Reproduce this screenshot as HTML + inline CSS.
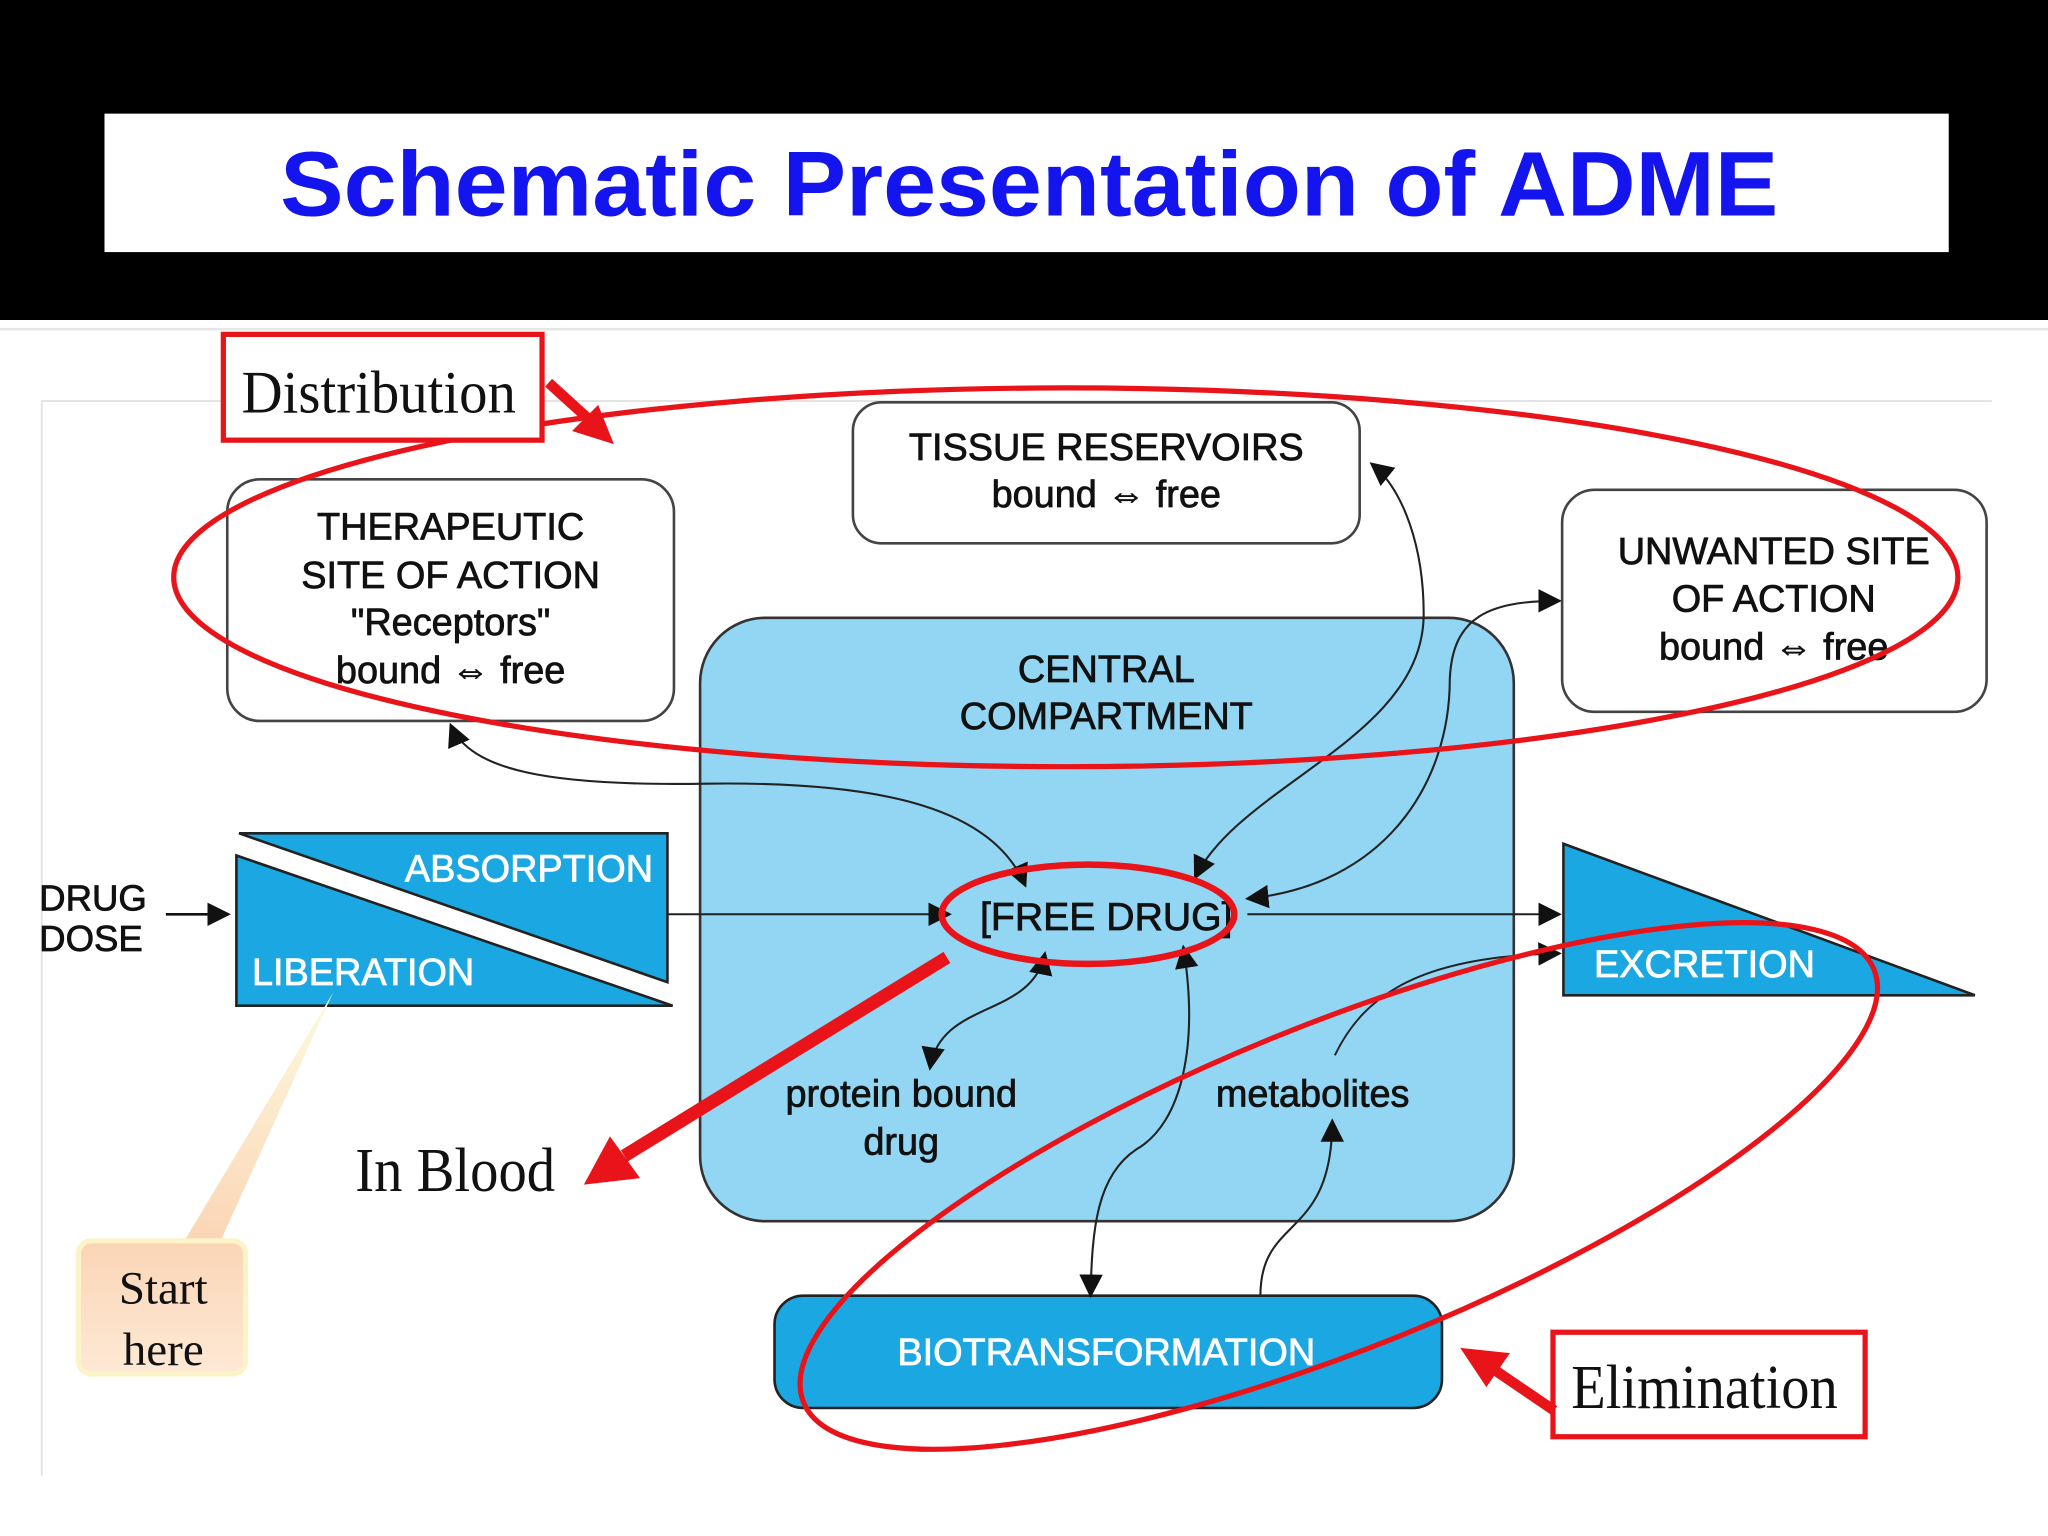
<!DOCTYPE html>
<html><head><meta charset="utf-8"><style>
html,body{margin:0;padding:0;background:#fff;overflow:hidden;}
svg{display:block;}
.s{font-family:"Liberation Sans",sans-serif;stroke:#111;stroke-width:0.6;}
.w{stroke:#fff;}
.r{font-family:"Liberation Serif",serif;}
</style></head><body>
<svg width="2048" height="1536" viewBox="0 0 1568 1176" preserveAspectRatio="none" xmlns="http://www.w3.org/2000/svg">
<defs>
<marker id="b" viewBox="0 0 10 10" refX="9" refY="5" markerWidth="18" markerHeight="18" orient="auto" markerUnits="userSpaceOnUse"><path d="M0,0 L10,5 L0,10 z" fill="#111"/></marker>
<marker id="c" viewBox="0 0 10 10" refX="1" refY="5" markerWidth="18" markerHeight="18" orient="auto" markerUnits="userSpaceOnUse"><path d="M10,0 L0,5 L10,10 z" fill="#111"/></marker>
<linearGradient id="pg" x1="0" y1="0" x2="0" y2="1"><stop offset="0" stop-color="#fbd5b5"/><stop offset="1" stop-color="#fde9d6"/></linearGradient>
<linearGradient id="tg" x1="0" y1="1" x2="0" y2="0"><stop offset="0" stop-color="#fbd5b5"/><stop offset="1" stop-color="#fdfbe0"/></linearGradient>
</defs>
<rect x="0" y="0" width="1568" height="245" fill="#000"/>
<rect x="80" y="87" width="1412" height="106" fill="#fff"/>
<text x="788" y="165" text-anchor="middle" font-family="Liberation Sans,sans-serif" font-weight="bold" font-size="70" fill="#1414ee" textLength="1147" lengthAdjust="spacingAndGlyphs">Schematic Presentation of ADME</text>
<line x1="0" y1="252" x2="1568" y2="252" stroke="#e6e6e6" stroke-width="2"/>
<path d="M32,1130 L32,307 L1525,307" fill="none" stroke="#e4e4e4" stroke-width="1.5"/>

<rect x="536" y="473" width="623" height="462" rx="50" fill="#92d6f4" stroke="#333" stroke-width="2"/>
<text x="847" y="522" text-anchor="middle" class="s" font-size="29" fill="#111">CENTRAL</text>
<text x="847" y="558" text-anchor="middle" class="s" font-size="29" fill="#111">COMPARTMENT</text>

<rect x="653" y="308" width="388" height="108" rx="22" fill="#fff" stroke="#444" stroke-width="2"/>
<text x="847" y="352" text-anchor="middle" class="s" font-size="29" fill="#111">TISSUE RESERVOIRS</text>
<text x="847" y="388" text-anchor="middle" class="s" font-size="29" fill="#111">bound ⇔ free</text>
<rect x="174" y="367" width="342" height="185" rx="25" fill="#fff" stroke="#444" stroke-width="2"/>
<text x="345" y="413" text-anchor="middle" class="s" font-size="29" fill="#111">THERAPEUTIC</text>
<text x="345" y="450" text-anchor="middle" class="s" font-size="29" fill="#111">SITE OF ACTION</text>
<text x="345" y="486" text-anchor="middle" class="s" font-size="29" fill="#111">"Receptors"</text>
<text x="345" y="523" text-anchor="middle" class="s" font-size="29" fill="#111">bound ⇔ free</text>
<rect x="1196" y="375" width="325" height="170" rx="25" fill="#fff" stroke="#444" stroke-width="2"/>
<text x="1358" y="432" text-anchor="middle" class="s" font-size="29" fill="#111">UNWANTED SITE</text>
<text x="1358" y="468" text-anchor="middle" class="s" font-size="29" fill="#111">OF ACTION</text>
<text x="1358" y="505" text-anchor="middle" class="s" font-size="29" fill="#111">bound ⇔ free</text>

<polygon points="183,638 511,638 511,752" fill="#1ba8e2" stroke="#222" stroke-width="2"/>
<polygon points="181,655 181,770 515,770" fill="#1ba8e2" stroke="#222" stroke-width="2"/>
<text x="405" y="675" text-anchor="middle" class="s w" font-size="29" fill="#fff">ABSORPTION</text>
<text x="278" y="754" text-anchor="middle" class="s w" font-size="29" fill="#fff">LIBERATION</text>
<text x="30" y="697" class="s" font-size="28" fill="#111">DRUG</text>
<text x="30" y="728" class="s" font-size="28" fill="#111">DOSE</text>
<line x1="127" y1="700" x2="175" y2="700" stroke="#111" stroke-width="2" marker-end="url(#b)"/>
<line x1="511" y1="700" x2="727" y2="700" stroke="#222" stroke-width="1.5" marker-end="url(#b)"/>

<polygon points="1197,646 1197,762 1512,762" fill="#1ba8e2" stroke="#222" stroke-width="2"/>
<text x="1305" y="748" text-anchor="middle" class="s w" font-size="29" fill="#fff">EXCRETION</text>
<line x1="955" y1="700" x2="1194" y2="700" stroke="#222" stroke-width="1.5" marker-end="url(#b)"/>
<path d="M1022,808 C1045,760 1090,732 1194,730" fill="none" stroke="#222" stroke-width="1.5" marker-end="url(#b)"/>

<rect x="593" y="992" width="511" height="86" rx="22" fill="#1ba8e2" stroke="#222" stroke-width="2"/>
<text x="847" y="1045" text-anchor="middle" class="s w" font-size="29" fill="#fff">BIOTRANSFORMATION</text>

<text x="847" y="712" text-anchor="middle" class="s" font-size="30" fill="#111">[FREE DRUG]</text>
<text x="690" y="847" text-anchor="middle" class="s" font-size="29" fill="#111">protein bound</text>
<text x="690" y="884" text-anchor="middle" class="s" font-size="29" fill="#111">drug</text>
<text x="1005" y="847" text-anchor="middle" class="s" font-size="29" fill="#111">metabolites</text>

<path d="M785,678 C760,620 680,598 540,600 C420,602 360,590 345,555" fill="none" stroke="#222" stroke-width="1.6" marker-start="url(#c)" marker-end="url(#b)"/>
<path d="M915,672 C950,600 1090,565 1090,470 C1090,420 1075,375 1050,355" fill="none" stroke="#222" stroke-width="1.6" marker-start="url(#c)" marker-end="url(#b)"/>
<path d="M955,688 C1060,678 1110,600 1110,520 C1112,472 1140,460 1194,460" fill="none" stroke="#222" stroke-width="1.6" marker-start="url(#c)" marker-end="url(#b)"/>
<path d="M800,730 C790,780 720,765 712,818" fill="none" stroke="#222" stroke-width="1.6" marker-start="url(#c)" marker-end="url(#b)"/>
<path d="M906,725 C918,800 905,860 870,880 C840,900 836,940 835,992" fill="none" stroke="#222" stroke-width="1.6" marker-start="url(#c)" marker-end="url(#b)"/>
<path d="M965,992 C965,930 1020,950 1020,858" fill="none" stroke="#222" stroke-width="1.6" marker-end="url(#b)"/>

<ellipse cx="816" cy="442" rx="683" ry="145" fill="none" stroke="#e8141a" stroke-width="4"/>
<ellipse cx="833" cy="700" rx="112" ry="38" fill="none" stroke="#e8141a" stroke-width="5"/>
<ellipse cx="1025" cy="908" rx="442" ry="124" transform="rotate(-22 1025 908)" fill="none" stroke="#e8141a" stroke-width="4"/>
<rect x="171" y="256" width="244" height="81" fill="#fff" stroke="#e8141a" stroke-width="4"/>
<text x="185" y="316" class="r" font-size="46" fill="#111" textLength="210" lengthAdjust="spacingAndGlyphs">Distribution</text>
<line x1="420" y1="293" x2="452" y2="322" stroke="#e8141a" stroke-width="8"/>
<polygon points="470,340 438,330 458,310" fill="#e8141a"/>
<line x1="725" y1="733" x2="478" y2="885" stroke="#e8141a" stroke-width="10"/>
<polygon points="447,907 467,870 490,902" fill="#e8141a"/>
<text x="272" y="912" class="r" font-size="48" fill="#111" textLength="153" lengthAdjust="spacingAndGlyphs">In Blood</text>
<rect x="1189" y="1020" width="239" height="80" fill="#fff" stroke="#e8141a" stroke-width="4"/>
<text x="1203" y="1078" class="r" font-size="48" fill="#111" textLength="204" lengthAdjust="spacingAndGlyphs">Elimination</text>
<line x1="1190" y1="1080" x2="1143" y2="1048" stroke="#e8141a" stroke-width="8"/>
<polygon points="1118,1032 1156,1036 1138,1062" fill="#e8141a"/>

<polygon points="140,952 168,952 255,760" fill="url(#tg)"/>
<rect x="60" y="950" width="128" height="102" rx="10" fill="url(#pg)" stroke="#fdf3c8" stroke-width="4"/>
<text x="125" y="998" text-anchor="middle" class="r" font-size="36" fill="#111">Start</text>
<text x="125" y="1045" text-anchor="middle" class="r" font-size="36" fill="#111">here</text>
</svg>
</body></html>
